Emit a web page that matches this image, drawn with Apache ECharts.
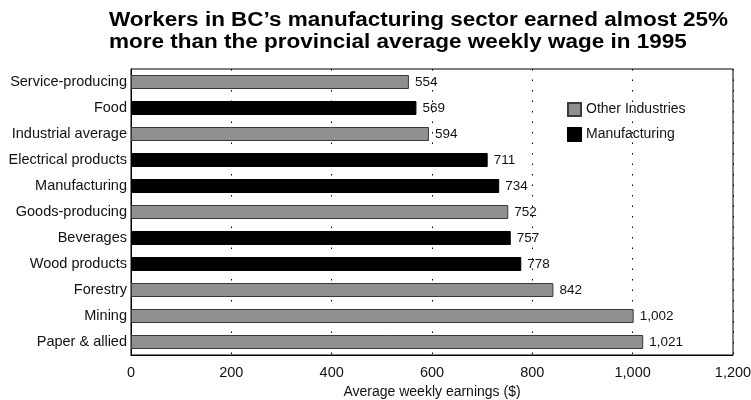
<!DOCTYPE html>
<html>
<head>
<meta charset="utf-8">
<script src="https://cdn.jsdelivr.net/npm/echarts@6/dist/echarts.min.js"></script>
<style>
  html, body { margin: 0; padding: 0; background: #fff; }
  #chart { width: 751px; height: 400px; }
</style>
</head>
<body>
<div id="chart"></div>
<script>
// Industry groups, listed top to bottom
const categories = [
  'Service-producing', 'Food', 'Industrial average', 'Electrical products',
  'Manufacturing', 'Goods-producing', 'Beverages', 'Wood products',
  'Forestry', 'Mining', 'Paper & allied'
];
// Average weekly earnings ($), 1995; null where the industry belongs to the other group
const otherIndustries = [554, null, 594, null, null, 752, null, null, 842, 1002, 1021];
const manufacturing   = [null, 569, null, 711, 734, null, 757, 778, null, null, null];
const xTicks = [0, 200, 400, 600, 800, 1000, 1200];

const titleText = 'Workers in BC\u2019s manufacturing sector earned almost 25%\nmore than the provincial average weekly wage in 1995';

const FONT = '"Liberation Sans", Arial, sans-serif';
const fmt = v => Number(v).toLocaleString('en-US');

const chart = echarts.init(document.getElementById('chart'), null, { renderer: 'canvas' });

const labelCfg = {
  show: true,
  position: 'right',
  distance: 6,
  color: '#111',
  fontFamily: FONT,
  fontSize: 13.5,
  formatter: p => fmt(p.value)
};

chart.setOption({
  animation: false,
  // Headline: bold, slightly widened type
  graphic: [{
    type: 'text',
    x: 109,
    y: 9,
    scaleX: 1.125,
    style: {
      text: titleText,
      fontFamily: FONT,
      fontWeight: 'bold',
      fontSize: 20,
      lineHeight: 22,
      fill: '#000'
    }
  }],
  legend: {
    left: 562,
    top: 97,
    orient: 'vertical',
    itemWidth: 13,
    itemHeight: 13,
    itemGap: 10,
    icon: 'rect',
    textStyle: { fontFamily: FONT, fontSize: 14, color: '#111', lineHeight: 14 },
    data: ['Other Industries', 'Manufacturing']
  },
  grid: {
    left: 131,
    right: 18,
    top: 69,
    bottom: 45,
    show: true,
    borderColor: '#000',
    borderWidth: 1,
    containLabel: false,
    outerBoundsMode: 'none'
  },
  xAxis: {
    type: 'value',
    min: xTicks[0],
    max: xTicks[xTicks.length - 1],
    interval: 200,
    name: 'Average weekly earnings ($)',
    nameLocation: 'middle',
    nameGap: 30,
    nameTextStyle: { fontFamily: FONT, fontSize: 14, color: '#111' },
    axisLine: { show: true, lineStyle: { color: '#000', width: 1 } },
    axisTick: { show: false },
    axisLabel: {
      margin: 10,
      fontFamily: FONT,
      fontSize: 14.5,
      color: '#111',
      formatter: v => fmt(v)
    },
    splitLine: {
      show: true,
      lineStyle: { color: '#000', width: 1, type: [1.5, 9] }
    }
  },
  yAxis: {
    type: 'category',
    data: categories,
    inverse: true,
    axisLine: { show: true, lineStyle: { color: '#000', width: 1 } },
    axisTick: { show: false },
    axisLabel: {
      margin: 4,
      fontFamily: FONT,
      fontSize: 14.5,
      color: '#111'
    },
    splitLine: { show: false }
  },
  series: [
    {
      name: 'Other Industries',
      type: 'bar',
      data: otherIndustries,
      barWidth: 14,
      barGap: '-100%',
      itemStyle: { color: '#8f8f8f', borderColor: '#3a3a3a', borderWidth: 1 },
      label: labelCfg
    },
    {
      name: 'Manufacturing',
      type: 'bar',
      data: manufacturing,
      barWidth: 14,
      barGap: '-100%',
      itemStyle: { color: '#000', borderColor: '#000', borderWidth: 1 },
      label: labelCfg
    }
  ]
});
</script>
</body>
</html>
